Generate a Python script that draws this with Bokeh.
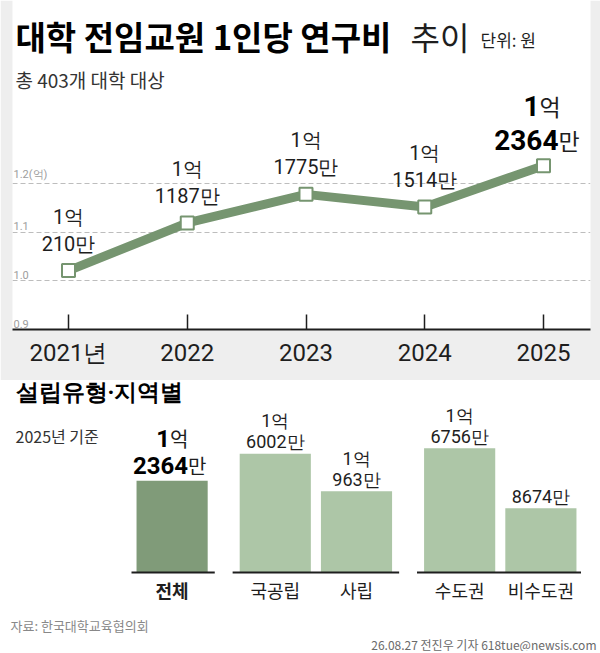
from bokeh.core.properties import value
from bokeh.embed import file_html
from bokeh.layouts import column, row
from bokeh.models import ColumnDataSource, FactorRange, FixedTicker, Label, Range1d
from bokeh.plotting import figure
from bokeh.resources import INLINE

# 연도별 전임교원 1인당 연구비 (단위: 만원)
years = [2021, 2022, 2023, 2024, 2025]
per_prof = [10210, 11187, 11775, 11514, 12364]
ytick_vals = [0.9, 1.0, 1.1, 1.2]
ytick_labels = ["0.9", "1.0", "1.1", "1.2(억)"]

# 2025년 설립유형·지역별 (단위: 만원)
groups = ["전체", "설립유형", "설립유형", "지역", "지역"]
kinds = ["전체", "국공립", "사립", "수도권", "비수도권"]
by_kind = [12364, 16002, 10963, 16756, 8674]

BG = "#eeeeee"
GREEN = "#769570"
DARK = "#809b79"
LIGHT = "#adc6a7"
INK = "#1e1e1e"
KR = "Noto Sans CJK KR"
NUM = "Roboto"
W = 600


def eok(v):
    return f"{v // 10000}억" if v >= 10000 else ""


def man(v):
    return f"{v % 10000}만" if v >= 10000 else f"{v}만"


def put(fig, X, Y, text, frame_left, frame_bottom, **kw):
    # X, Y: page pixel position; screen units count from the frame's bottom-left
    kw.setdefault("text_baseline", "middle")
    fig.add_layout(Label(x=X - frame_left, y=frame_bottom - Y, x_units="screen",
                         y_units="screen", text=text, **kw))


def panel(width, height, bg=BG, **kw):
    fig = figure(width=width, height=height, output_backend="svg", toolbar_location=None,
                 frame_align=False, **kw)
    fig.background_fill_color = None
    fig.border_fill_color = bg
    fig.outline_line_color = None
    return fig


def blank(width, height, bg=BG):
    fig = panel(width, height, bg, x_range=Range1d(0, 1), y_range=Range1d(0, 1),
                x_axis_location=None, y_axis_location=None, min_border=0)
    fig.grid.visible = False
    return fig


# ---------------- line chart (page y 0..380) ----------------
PX_YEAR = 118.75
PX_EOK = 487
x0 = years[0] - 56 / PX_YEAR
p = panel(W, 380, x_range=Range1d(x0, x0 + 578 / PX_YEAR),
          y_range=Range1d(ytick_vals[0], ytick_vals[0] + 329 / PX_EOK),
          y_axis_location=None,
          min_border_left=12, min_border_right=10, min_border_top=0, min_border_bottom=51)
p.xgrid.visible = False
p.ygrid.ticker = FixedTicker(ticks=ytick_vals[1:])
p.ygrid.grid_line_color = "#bdbdbd"
p.ygrid.grid_line_dash = "5 3"

ax = p.xaxis[0]
ax.ticker = FixedTicker(ticks=years)
ax.major_label_overrides = {years[0]: f"{years[0]}년"}
ax.axis_line_width = 2
ax.axis_line_color = INK
ax.major_tick_in = 15
ax.major_tick_out = 0
ax.major_tick_line_width = 1.5
ax.major_tick_line_color = INK
ax.minor_tick_line_color = None
ax.major_label_standoff = 9
ax.major_label_text_font = NUM
ax.major_label_text_font_size = "24px"
ax.major_label_text_color = INK

ys = [v / 10000 for v in per_prof]
src = ColumnDataSource(dict(x=years, y=ys))
p.varea(x="x", y1=ytick_vals[0], y2="y", source=src, fill_color="white", level="image")
p.line("x", "y", source=src, line_color=GREEN, line_width=9)
p.scatter("x", "y", source=src, marker="square", size=13, fill_color="white",
          line_color=GREEN, line_width=2)

p.text(x=[x0] * len(ytick_vals), y=ytick_vals, text=ytick_labels, x_offset=1, y_offset=-2,
       text_baseline="bottom", text_align="left", text_font=value(NUM),
       text_font_size="11px", text_color="#9d9d9d")

n = len(years) - 1
lab = ColumnDataSource(dict(x=years[:n], y=ys[:n],
                            top=[eok(v) for v in per_prof[:n]],
                            bot=[man(v) for v in per_prof[:n]]))
for col, off in (("top", -54), ("bot", -27)):
    p.text("x", "y", text=col, source=lab, y_offset=off, text_align="center",
           text_baseline="middle", text_font=value(NUM), text_font_size="20px",
           text_color=INK)

hx, hy, hv = [years[-1]], [ys[-1]], per_prof[-1]
p.text(hx, hy, text=[str(hv // 10000)], x_offset=-4, y_offset=-60, text_align="right",
       text_baseline="middle", text_font=value(NUM), text_font_style="bold",
       text_font_size="28px", text_color="black")
p.text(hx, hy, text=["억"], x_offset=-4, y_offset=-60, text_align="left",
       text_baseline="middle", text_font=value(KR), text_font_size="23px", text_color=INK)
p.text(hx, hy, text=[str(hv % 10000)], x_offset=15, y_offset=-26, text_align="right",
       text_baseline="middle", text_font=value(NUM), text_font_style="bold",
       text_font_size="28px", text_color="black")
p.text(hx, hy, text=["만"], x_offset=15, y_offset=-26, text_align="left",
       text_baseline="middle", text_font=value(KR), text_font_size="23px", text_color=INK)

put(p, 15, 35, "대학 전임교원 1인당 연구비", 12, 329, text_font=KR, text_font_style="bold",
    text_font_size="33px", text_color="black")
put(p, 410, 35, "추이", 12, 329, text_font=KR, text_font_size="32px", text_color=INK)
put(p, 480, 39, "단위: 원", 12, 329, text_font=KR, text_font_size="17px", text_color=INK)
put(p, 15, 79, "총 403개 대학 대상", 12, 329, text_font=KR, text_font_size="19px",
    text_color="#333333")

# ---------------- section heading (page y 380..406) ----------------
s = blank(W, 26)
put(s, 15, 392, "설립유형·지역별", 0, 406, text_font=NUM, text_font_style="bold",
    text_font_size="23px", text_color="black")

# ---------------- bar chart (page y 406..600) ----------------
PX_MAN = 0.00742          # pixels per 만원
QH = 194
b0 = -28 / PX_MAN         # baseline sits 28px above the bottom
factors = list(zip(groups, kinds))

left = blank(131, QH)
put(left, 15, 435, "2025년 기준", 0, 600, text_font=KR, text_font_size="16px",
    text_color="#333333")

q = panel(450, QH,
          x_range=FactorRange(factors=factors, factor_padding=0, group_padding=0.27),
          y_range=Range1d(b0, b0 + QH / PX_MAN),
          x_axis_location=None, y_axis_location=None, min_border=0)
q.grid.visible = False

colors = [DARK if k == "전체" else LIGHT for k in kinds]
styles = ["bold" if k == "전체" else "normal" for k in kinds]
bsrc = ColumnDataSource(dict(x=factors, v=by_kind, color=colors, kind=kinds, style=styles))
q.vbar(x="x", top="v", width=0.876, fill_color="color", line_color=None, source=bsrc)

gnames = list(dict.fromkeys(groups))
q.rect(x=gnames, y=0, width=[groups.count(g) + 0.05 for g in gnames], height=2,
       height_units="screen", fill_color=INK, line_color=None)

q.text("x", 0, text="kind", source=bsrc, y_offset=17, text_align="center",
       text_baseline="middle", text_font=value(KR), text_font_style="style",
       text_font_size="18px", text_color=INK)

rest = ColumnDataSource(dict(x=factors[1:], v=by_kind[1:],
                             top=[eok(v) for v in by_kind[1:]],
                             bot=[man(v) for v in by_kind[1:]]))
for col, off in (("top", -33), ("bot", -12)):
    q.text("x", "v", text=col, source=rest, y_offset=off, text_align="center",
           text_baseline="middle", text_font=value(NUM), text_font_size="18px",
           text_color=INK)

fx, fv = [factors[0]], by_kind[0]
q.text(fx, [fv], text=[str(fv // 10000)], x_offset=-2, y_offset=-42, text_align="right",
       text_baseline="middle", text_font=value(NUM), text_font_style="bold",
       text_font_size="24px", text_color="black")
q.text(fx, [fv], text=["억"], x_offset=-2, y_offset=-42, text_align="left",
       text_baseline="middle", text_font=value(KR), text_font_size="20px", text_color=INK)
q.text(fx, [fv], text=[str(fv % 10000)], x_offset=16, y_offset=-15, text_align="right",
       text_baseline="middle", text_font=value(NUM), text_font_style="bold",
       text_font_size="24px", text_color="black")
q.text(fx, [fv], text=["만"], x_offset=16, y_offset=-15, text_align="left",
       text_baseline="middle", text_font=value(KR), text_font_size="20px", text_color=INK)

right = blank(W - 131 - 450, QH)

# ---------------- source line, watermark (600..636), footer (636..651) ----------------
b = blank(W, 36)
put(b, 432, 617, "뉴시스", 0, 636, text_font=KR, text_font_style="bold",
    text_font_size="30px", text_color="white", text_alpha=0.9)
put(b, 10, 625, "자료: 한국대학교육협의회", 0, 636, text_font=KR,
    text_font_size="13px", text_color="#888888")

f = blank(W, 15, "white")
put(f, 596, 644, "26.08.27 전진우 기자 618tue@newsis.com", 0, 651, text_font=KR,
    text_font_size="12px", text_color="#6a6a6a", text_align="right")

page = column(p, s, row(left, q, right, spacing=0), b, f, spacing=0)
open("out.html", "w").write(file_html(page, INLINE))
